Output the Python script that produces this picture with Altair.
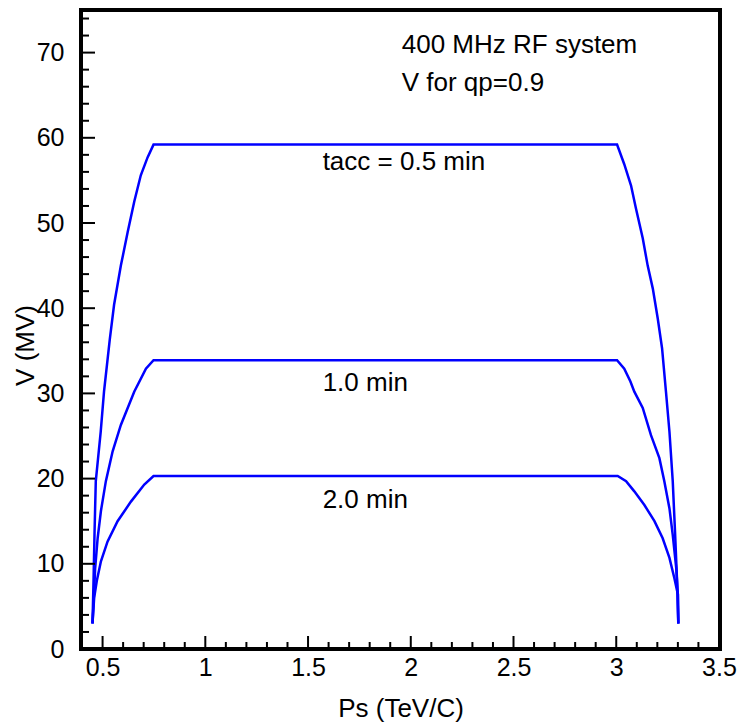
import altair as alt
import pandas as pd

FONT = "Liberation Sans"

# ---- curve data ----
series_names = ["0.5 min", "1.0 min", "2.0 min"]

ps_05 = [0.451, 0.456, 0.461, 0.467, 0.491, 0.507, 0.535, 0.556, 0.589, 0.622,
         0.654, 0.686, 0.719, 0.748, 3.004, 3.039, 3.072, 3.096, 3.129, 3.153,
         3.178, 3.202, 3.223, 3.242, 3.259, 3.275, 3.286, 3.296, 3.302]
v_05 = [3.0, 8.0, 13.8, 19.7, 25.5, 30.2, 36.3, 40.4, 45.0, 48.9,
        52.5, 55.6, 57.7, 59.2, 59.2, 56.9, 54.4, 51.7, 48.2, 45.0,
        42.3, 38.8, 35.3, 30.2, 25.5, 19.7, 13.8, 8.0, 3.0]

ps_10 = [0.451, 0.459, 0.464, 0.476, 0.492, 0.516, 0.549, 0.589, 0.654, 0.711,
         0.748, 3.004, 3.039, 3.069, 3.088, 3.129, 3.169, 3.210, 3.234,
         3.259, 3.275, 3.292, 3.300, 3.302]
v_10 = [3.0, 6.8, 9.5, 13.0, 16.2, 19.7, 23.2, 26.3, 30.2, 32.9,
        33.9, 33.9, 32.9, 31.4, 30.2, 28.3, 25.1, 22.4, 19.7,
        16.5, 13.4, 9.5, 6.4, 3.0]

ps_20 = [0.451, 0.459, 0.472, 0.492, 0.524, 0.573, 0.638, 0.703, 0.748,
         3.007, 3.048, 3.088, 3.137, 3.186, 3.226, 3.259, 3.283, 3.300, 3.302]
v_20 = [3.0, 6.0, 8.0, 10.3, 12.6, 15.0, 17.3, 19.3, 20.3,
        20.3, 19.7, 18.5, 16.9, 15.0, 13.0, 10.7, 8.3, 6.4, 3.0]

# ---- axis ticks ----
x_major = [0.5, 1.0, 1.5, 2.0, 2.5, 3.0, 3.5]
x_minor = [0.6, 0.7, 0.8, 0.9, 1.1, 1.2, 1.3, 1.4, 1.6, 1.7, 1.8, 1.9,
           2.1, 2.2, 2.3, 2.4, 2.6, 2.7, 2.8, 2.9, 3.1, 3.2, 3.3, 3.4]
y_major = [0, 10, 20, 30, 40, 50, 60, 70]
y_minor = [2, 4, 6, 8, 12, 14, 16, 18, 22, 24, 26, 28, 32, 34, 36, 38,
           42, 44, 46, 48, 52, 54, 56, 58, 62, 64, 66, 68, 72, 74]

# ---- annotations ----
note_text = ["400 MHz RF system", "V for qp=0.9", "tacc = 0.5 min", "1.0 min", "2.0 min"]
note_x = [1.956, 1.956, 1.571, 1.571, 1.571]
note_y = [69.9, 65.5, 56.2, 30.3, 16.5]

rows = []
for name, xs, ys in zip(series_names, [ps_05, ps_10, ps_20], [v_05, v_10, v_20]):
    for i, (a, b) in enumerate(zip(xs, ys)):
        rows.append({"series": name, "order": i, "Ps": a, "V": b})
df = pd.DataFrame(rows)

W, H = 639, 639
xscale = alt.Scale(domain=[0.395, 3.505], nice=False, zero=False)
yscale = alt.Scale(domain=[0, 75], nice=False)

xaxis = alt.Axis(title="Ps (TeV/C)", values=x_major, format="~g",
                 ticks=False, domain=False, grid=False,
                 labelFont=FONT, labelFontSize=25, labelColor="black",
                 labelPadding=6, labelBaseline="top",
                 titleFont=FONT, titleFontSize=26, titleFontWeight="normal",
                 titleColor="black", titleY=59, titleBaseline="middle")
yaxis = alt.Axis(title="V (MV)", values=y_major, format="d",
                 ticks=False, domain=False, grid=False,
                 labelFont=FONT, labelFontSize=25, labelColor="black",
                 labelPadding=17,
                 titleFont=FONT, titleFontSize=26, titleFontWeight="normal",
                 titleColor="black", titleX=-56, titleY=335,
                 titleAlign="center", titleBaseline="middle")


def X(field="Ps"):
    return alt.X(f"{field}:Q", scale=xscale, axis=xaxis, title="Ps (TeV/C)")


def Y(field="V"):
    return alt.Y(f"{field}:Q", scale=yscale, axis=yaxis, title="V (MV)")


lines = alt.Chart(df).mark_line(color="#0000ff", strokeWidth=2.5, clip=True).encode(
    x=X(), y=Y(), detail="series:N", order="order:Q")

ytm = alt.Chart(pd.DataFrame({"V": y_major})).mark_rule(color="black", strokeWidth=2).encode(
    y=Y(), x=alt.value(0), x2=alt.value(14))
ytn = alt.Chart(pd.DataFrame({"V": y_minor})).mark_rule(color="black", strokeWidth=2).encode(
    y=Y(), x=alt.value(0), x2=alt.value(8))
xtm = alt.Chart(pd.DataFrame({"Ps": x_major})).mark_rule(color="black", strokeWidth=2).encode(
    x=X(), y=alt.value(H), y2=alt.value(H - 13))
xtn = alt.Chart(pd.DataFrame({"Ps": x_minor})).mark_rule(color="black", strokeWidth=2).encode(
    x=X(), y=alt.value(H), y2=alt.value(H - 7))

notes = alt.Chart(pd.DataFrame({"t": note_text, "Ps": note_x, "V": note_y})).mark_text(
    align="left", baseline="alphabetic", font=FONT, fontSize=26, color="black").encode(
    x=X(), y=Y(), text="t:N")

chart = alt.layer(lines, ytm, ytn, xtm, xtn, notes).properties(
    width=W, height=H,
    autosize=alt.AutoSizeParams(type="none"),
    padding={"left": 81, "top": 10, "right": 18, "bottom": 74},
    background="white",
).configure_view(stroke="black", strokeWidth=4)

chart.save("out.html", embed_options={"renderer": "svg", "actions": False})
